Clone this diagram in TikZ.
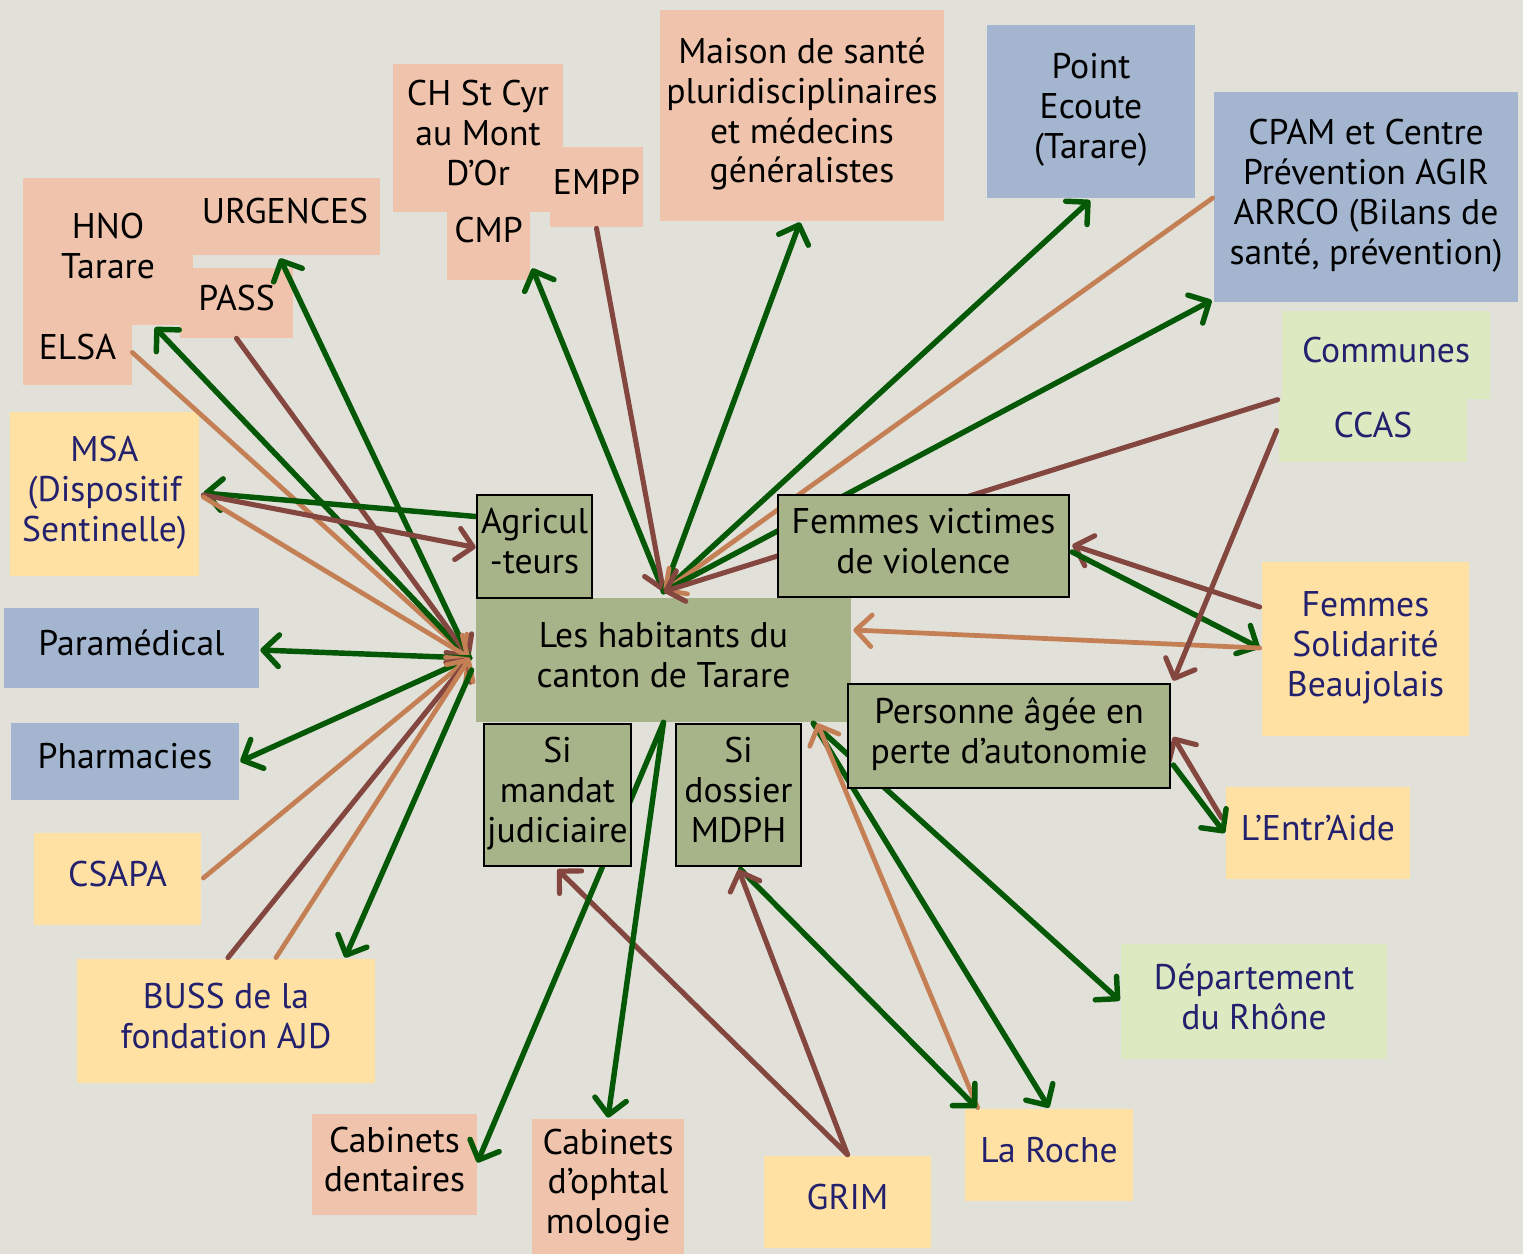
\documentclass[tikz,border=0pt]{standalone}
\usepackage{fontspec}
\setmainfont{PT Sans}
\usetikzlibrary{arrows.meta,calc}
\pgfdeclarelayer{bg}
\pgfdeclarelayer{fg}
\pgfsetlayers{bg,main,fg}
\definecolor{bgc}{RGB}{225,225,218}
\definecolor{sal}{RGB}{240,196,172}
\definecolor{blu}{RGB}{163,181,207}
\definecolor{yel}{RGB}{255,226,163}
\definecolor{lgr}{RGB}{221,234,193}
\definecolor{grn}{RGB}{167,180,138}
\definecolor{dg}{RGB}{4,88,6}
\definecolor{brn}{RGB}{132,71,64}
\definecolor{tan}{RGB}{196,127,85}
\definecolor{navy}{RGB}{35,33,110}
\begin{document}
\begin{tikzpicture}[x=0.02cm,y=-0.02cm,
  bx/.style={inner sep=0pt, align=center, text depth=6pt, font=\fontsize{20.3}{22.7}\selectfont},
  sz/.style 2 args={minimum width=#1*0.02cm, minimum height=#2*0.02cm},
  salb/.style={bx, fill=sal, text=black},
  blub/.style={bx, fill=blu, text=black},
  yelb/.style={bx, fill=yel, text=navy},
  lgrb/.style={bx, fill=lgr, text=navy},
  grnb/.style={bx, fill=grn, text=black},
  grnd/.style={bx, fill=grn, text=black, draw=black, line width=1.5pt},
  ar/.style={-{Straight Barb[length=9pt,width=18pt,round]}},
  lg/.style={draw=dg, line width=3.1pt, line cap=round, ar},
  lb/.style={draw=brn, line width=2.9pt, line cap=round, ar},
  lt/.style={draw=tan, line width=2.7pt, line cap=round, ar}]
\useasboundingbox (0,0) rectangle (1523,1254);
% salmon
\node[salb,sz={170}{147}] (hno) at (108,251.5) {HNO\\Tarare};
\node[salb,sz={109}{65}] (elsa) at (77.5,352.5) {ELSA};
\node[salb,sz={190}{77}] (urg) at (285,216.5) {URGENCES};
\node[salb,sz={113}{70}] (pass) at (236.5,303) {PASS};
\node[salb,sz={170}{148}] (chst) at (478,138) {CH St Cyr\\au Mont\\D’Or};
\node[salb,sz={83}{90}] (cmp) at (488.5,235) {CMP};
\node[salb,sz={93}{80}] (empp) at (596.5,187) {EMPP};
\node[salb,sz={284}{211}] (mais) at (802,115.5) {Maison de santé\\pluridisciplinaires\\et médecins\\généralistes};
\node[salb,sz={165}{101}] (dent) at (394.5,1164.5) {Cabinets\\dentaires};
\node[salb,sz={152}{135}] (opht) at (608,1186.5) {Cabinets\\d’ophtal\\mologie};
% blue
\node[blub,sz={208}{173}] (point) at (1091,111.5) {Point\\Ecoute\\(Tarare)};
\node[blub,sz={304}{210}] (cpam) at (1366,197) {CPAM et Centre\\Prévention AGIR\\ARRCO (Bilans de\\santé, prévention)};
\node[blub,sz={255}{80}] (para) at (131.5,648) {Paramédical};
\node[blub,sz={228}{77}] (pharm) at (125,761.5) {Pharmacies};
% yellow
\node[yelb,sz={189}{164}] (msa) at (104.5,494) {MSA\\(Dispositif\\Sentinelle)};
\node[yelb,sz={167}{92}] (csapa) at (117.5,879) {CSAPA};
\node[yelb,sz={298}{124}] (buss) at (226,1021) {BUSS de la\\fondation AJD};
\node[yelb,sz={207}{174}] (fsb) at (1365.5,649) {Femmes\\Solidarité\\Beaujolais};
\node[yelb,sz={184}{92}] (entr) at (1318,833) {L’Entr’Aide};
\node[yelb,sz={167}{92}] (grim) at (847.5,1202) {GRIM};
\node[yelb,sz={168}{92}] (roche) at (1049,1155) {La Roche};
% light green
\node[lgrb,sz={208}{88}] (comm) at (1386,355) {Communes};
\node[lgrb,sz={188}{63}] (ccas) at (1373,430.5) {CCAS};
\node[lgrb,sz={266}{115}] (dept) at (1254,1001.5) {Département\\du Rhône};
% green
\node[grnb,sz={375}{124}] (hab) at (663.5,660) {Les habitants du\\canton de Tarare};
\begin{pgfonlayer}{fg}
\node[grnd,sz={115}{103}] (agri) at (534.5,546.5) {Agricul\\-teurs};
\node[grnd,sz={291}{102}] (fvv) at (923.5,546) {Femmes victimes\\de violence};
\node[grnd,sz={322}{104}] (pers) at (1009,736) {Personne âgée en\\perte d’autonomie};
\node[grnd,sz={147}{142}] (mand) at (557.5,795) {Si\\mandat\\judiciaire};
\node[grnd,sz={125}{142}] (mdph) at (738.5,795) {Si\\dossier\\MDPH};
\end{pgfonlayer}
\coordinate (hubL) at ($(hab.west)+(-6,-2)$);
\coordinate (hubT) at ($(hab.north)+(0,-6)$);
\coordinate (hubB) at ($(hab.south east)+(-38,1)$);
\begin{pgfonlayer}{bg}
\fill[bgc] (0,0) rectangle (1523,1254);
\end{pgfonlayer}
% left
\draw[lt] (elsa.east) -- (hubL);
\draw[lg] (hubL) -- ($(hno.south)+(47,2)$);
\draw[lb] (pass.south) -- (hubL);
\draw[lg] (hubL) -- ($(urg.south)+(-5,3)$);
\draw[lg] ($(agri.west)+(0,-30)$) -- ($(msa.east)+(4,-1)$);
\draw[lb] ($(msa.east)+(4,1)$) -- ($(agri.west)+(0,1)$);
\draw[lt] ($(msa.east)+(4,3)$) -- (hubL);
\draw[lg] (hubL) -- ($(para.east)+(1,2)$);
\draw[lg] (hubL) -- ($(pharm.east)+(1,0)$);
\draw[lt] ($(csapa.east)+(2,-1)$) -- (hubL);
\draw[lb] ($(buss.north)+(2,-1)$) -- (hubL);
\draw[lt] ($(buss.north)+(50,-1)$) -- (hubL);
\draw[lg] ($(hubL)+(2,12)$) -- ($(buss.north)+(119,-1)$);
% top
\draw[lg] (hubT) -- ($(cmp.south east)+(2,-12)$);
\draw[lb] ($(empp.south)+(0,1)$) -- (hubT);
\draw[lg] (hubT) -- ($(mais.south)+(-2,1)$);
\draw[lg] (hubT) -- ($(point.south)+(-1,2)$);
\draw[lt] ($(cpam.west)+(-1,1)$) -- (hubT);
\draw[lg] (hubT) -- ($(cpam.south west)+(-2,-2)$);
\draw[lb] ($(ccas.north west)+(-1,1)$) -- (hubT);
% right
\draw[lb] ($(fsb.west)+(-2,-42)$) -- ($(fvv.east)+(2,-1)$);
\draw[lg] ($(fvv.east)+(2,6)$) -- ($(fsb.west)+(-2,-1)$);
\draw[lt] ($(fsb.west)+(-2,-1)$) -- ($(hab.east)+(2,-30)$);
\draw[lb] ($(ccas.west)+(-2,0)$) -- ($(pers.north east)+(2,-2)$);
\draw[lb] ($(entr.west)+(-4,-15)$) -- ($(pers.east)+(2,1)$);
\draw[lg] ($(pers.east)+(2,29)$) -- ($(entr.west)+(-1,0)$);
\draw[lg] (hubB) -- ($(dept.west)+(-1,-1)$);
\draw[lg] (hubB) -- ($(roche.north)+(0,-1)$);
\draw[lt] ($(roche.north west)+(13,-1)$) -- ($(hubB)+(4,0)$);
% bottom
\draw[lg] ($(mdph.south)+(2,2)$) -- ($(roche.north west)+(12,-1)$);
\draw[lb] ($(grim.north)+(0,-1)$) -- ($(mdph.south)+(0,2)$);
\draw[lb] ($(grim.north)+(0,-1)$) -- ($(mand.south)+(0,2)$);
\draw[lg] (hab.south) -- ($(dent.east)+(0,-2)$);
\draw[lg] (hab.south) -- ($(opht.north)+(0,-1)$);
\end{tikzpicture}
\end{document}
